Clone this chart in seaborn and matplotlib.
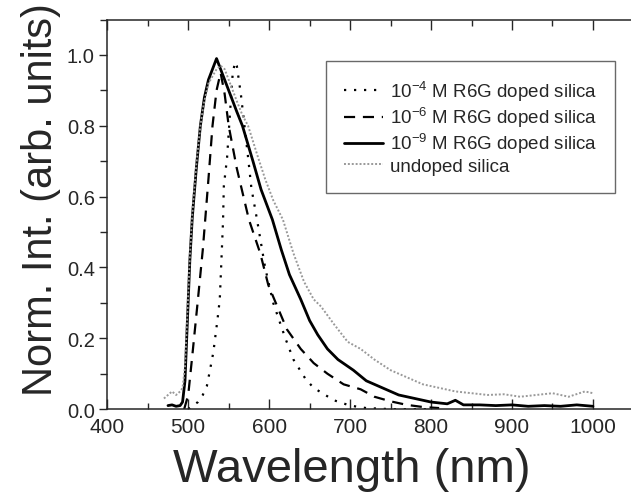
import matplotlib
matplotlib.use("Agg")
import matplotlib.pyplot as plt
from matplotlib.ticker import MultipleLocator
import seaborn as sns

# 10^-9 M R6G doped silica (solid)
wl_9 = [475, 480, 485, 490, 493, 496, 499, 502, 505, 510, 515, 520, 525, 530, 535, 540,
        545, 550, 555, 560, 567, 580, 590, 604, 615, 625, 639, 650, 660, 672, 685, 704,
        720, 740, 760, 780, 800, 820, 830, 840, 860, 880, 900, 920, 940, 960, 980, 1000]
int_9 = [0.01, 0.012, 0.008, 0.01, 0.02, 0.08, 0.25, 0.42, 0.54, 0.68, 0.80, 0.88, 0.93, 0.96, 0.99, 0.96,
         0.93, 0.90, 0.87, 0.84, 0.80, 0.70, 0.62, 0.535, 0.45, 0.38, 0.31, 0.25, 0.21, 0.17, 0.14, 0.11,
         0.08, 0.06, 0.04, 0.03, 0.02, 0.015, 0.025, 0.012, 0.012, 0.01, 0.012, 0.008, 0.01, 0.008, 0.012, 0.008]

# 10^-6 M R6G doped silica (dashed)
wl_6 = [495, 500, 505, 512, 518, 521, 525, 530, 535, 540, 545, 550, 560, 575, 589, 599,
        610, 622, 639, 655, 672, 692, 713, 730, 750, 770, 790, 810]
int_6 = [0.0, 0.04, 0.15, 0.31, 0.45, 0.535, 0.65, 0.80, 0.90, 0.95, 0.89, 0.80, 0.68, 0.535, 0.44, 0.35,
         0.29, 0.225, 0.17, 0.13, 0.10, 0.07, 0.056, 0.035, 0.022, 0.012, 0.006, 0.003]

# 10^-4 M R6G doped silica (dotted)
wl_4 = [500, 512, 518, 523, 526, 531, 536, 539, 541, 543, 544, 548, 552, 555, 558, 560,
        565, 574, 578, 585, 595, 605, 620, 630, 645, 655, 680, 700, 720, 750, 800]
int_4 = [0.0, 0.02, 0.04, 0.065, 0.10, 0.16, 0.25, 0.31, 0.42, 0.53, 0.63, 0.71, 0.85, 0.95, 0.98, 0.97,
         0.89, 0.71, 0.625, 0.535, 0.40, 0.30, 0.20, 0.14, 0.085, 0.06, 0.025, 0.01, 0.003, 0.0, 0.0]

# undoped silica (grey dotted)
wl_u = [470, 475, 480, 485, 490, 493, 496, 499, 502, 505, 510, 515, 519, 525, 530, 535, 540,
        545, 550, 555, 560, 567, 574, 585, 595, 605, 617, 630, 643, 655, 664, 680, 697, 713,
        730, 750, 770, 790, 810, 830, 850, 870, 890, 910, 930, 950, 970, 990, 1000]
int_u = [0.03, 0.04, 0.05, 0.04, 0.05, 0.06, 0.12, 0.27, 0.43, 0.55, 0.69, 0.80, 0.86, 0.92, 0.94, 0.96, 0.97,
         0.96, 0.93, 0.90, 0.87, 0.83, 0.80, 0.72, 0.65, 0.59, 0.535, 0.44, 0.36, 0.31, 0.29, 0.24, 0.19, 0.17,
         0.14, 0.11, 0.09, 0.07, 0.06, 0.05, 0.045, 0.04, 0.042, 0.035, 0.04, 0.045, 0.035, 0.05, 0.045]

labels = ["10$^{-4}$ M R6G doped silica", "10$^{-6}$ M R6G doped silica",
          "10$^{-9}$ M R6G doped silica", "undoped silica"]

sns.set_style("ticks")
plt.rcParams["font.family"] = ["Liberation Sans", "DejaVu Sans"]
plt.rcParams["mathtext.default"] = "regular"

fig = plt.figure(figsize=(6.31, 5.02), dpi=100)
ax = fig.add_axes([0.170, 0.183, 0.830, 0.776])

sns.lineplot(x=wl_4, y=int_4, ax=ax, color="black", lw=1.6, linestyle=(0, (1, 3.5)), label=labels[0])
sns.lineplot(x=wl_6, y=int_6, ax=ax, color="black", lw=1.6, linestyle=(0, (5, 3.5)), label=labels[1])
sns.lineplot(x=wl_9, y=int_9, ax=ax, color="black", lw=2.0, linestyle="-", label=labels[2])
sns.lineplot(x=wl_u, y=int_u, ax=ax, color="#999999", lw=1.4, linestyle=(0, (1, 1)), label=labels[3])

ax.set_xlim(400, 1047)
ax.set_ylim(0, 1.1)
ax.xaxis.set_major_locator(MultipleLocator(100))
ax.xaxis.set_minor_locator(MultipleLocator(50))
ax.yaxis.set_major_locator(MultipleLocator(0.2))
ax.yaxis.set_minor_locator(MultipleLocator(0.1))
ax.yaxis.set_major_formatter(matplotlib.ticker.FormatStrFormatter("%.1f"))

ax.spines["right"].set_visible(False)
for s in ["left", "bottom", "top"]:
    ax.spines[s].set_linewidth(1.1)
ax.tick_params(axis="x", which="both", direction="in", top=True, labelsize=15, width=1.0, pad=6)
ax.tick_params(axis="x", which="major", length=7)
ax.tick_params(axis="x", which="minor", length=4)
ax.tick_params(axis="y", which="both", direction="out", labelsize=14.5, width=1.0, pad=3)
ax.tick_params(axis="y", which="major", length=6)
ax.tick_params(axis="y", which="minor", length=5)

ax.set_xlabel("Wavelength (nm)", fontsize=34)
ax.set_ylabel("Norm. Int. (arb. units)", fontsize=30)
ax.xaxis.set_label_coords(0.467, -0.098)
ax.yaxis.set_label_coords(-0.088, 0.54)

leg = ax.legend(loc="upper right", bbox_to_anchor=(0.969, 0.894), borderaxespad=0,
                fontsize=13.5, frameon=True, fancybox=False, edgecolor="#444444",
                handlelength=2.1, handletextpad=0.35, labelspacing=0.12, borderpad=0.95)
leg.get_frame().set_linewidth(1.0)

fig.savefig("out.png", dpi=100)
